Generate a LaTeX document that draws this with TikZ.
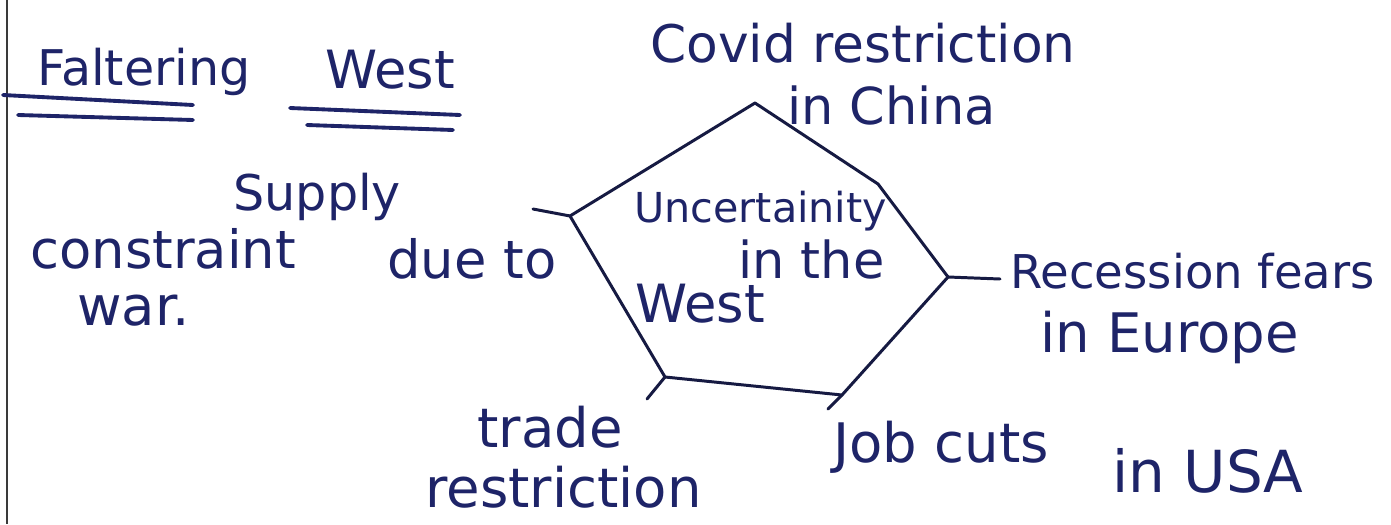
\documentclass[tikz,border=0pt]{standalone}
\usepackage{fontspec}
\setmainfont{DejaVu Sans}
\definecolor{inkblue}{HTML}{1E2468}
\definecolor{penline}{HTML}{161A42}
\definecolor{marginline}{HTML}{3A3A3A}
\begin{document}
\begin{tikzpicture}[x=0.02cm,y=-0.02cm,
  ink/.style={text=inkblue, inner sep=0pt, anchor=base west,
              font=\fontsize{#1}{#1}\selectfont},
  ink/.default=30,
  hexedge/.style={draw=penline, line width=1.7pt, line join=round, line cap=round},
  spoke/.style={draw=penline, line width=1.7pt, line cap=round},
  uline/.style={draw=inkblue, line width=2.2pt, line cap=round}]
\useasboundingbox (0,0) rectangle (1391,524);
\fill[white] (0,0) rectangle (1391,524);
% notebook margin rule
\draw[marginline, line width=1.2pt] (7,0) -- (7,524);

% title with double underlines
\node[ink=28] (falt) at (37,85) {Faltering};
\node[ink=30] (west) at (325,88) {West};
\draw[uline] (3,95) -- (193,105);
\draw[uline] (18,115) -- (193,120);
\draw[uline] (290,108) -- (460,115);
\draw[uline] (307,125) -- (453,130);

% central hexagon
\coordinate (hT)  at (755,103);
\coordinate (hUR) at (878,184);
\coordinate (hR)  at (948,277);
\coordinate (hBR) at (842,395);
\coordinate (hBL) at (665,377);
\coordinate (hL)  at (570,216);
\draw[hexedge] (hT) -- (hUR) -- (hR) -- (hBR) -- (hBL) -- (hL) -- cycle;

% free ends of the spokes
\coordinate (sL)  at (533,209);
\coordinate (sR)  at (1000,279);
\coordinate (sBL) at (647,399);
\coordinate (sBR) at (828,409);
\draw[spoke] (hL) -- (sL);
\draw[spoke] (hR) -- (sR);
\draw[spoke] (hBL) -- (sBL);
\draw[spoke] (hBR) -- (sBR);

% centre text
\node[ink=23.5] (unc1) at (634,222) {Uncertainity};
\node[ink=29] (unc2) at (738,278) {in the};
\node[ink=30] (unc3) at (635,322) {West};

% surrounding causes
\node[ink=29.5] (cov1) at (650,62) {Covid restriction};
\node[ink=29] (cov2) at (787,124) {in China};

\node[ink=28] (sup1) at (233,210) {Supply};
\node[ink=30] (sup2) at (30,268) {constraint};
\node[ink=30] (sup3) at (387,278) {due to};
\node[ink=31] (sup4) at (77,325) {war.};

\node[ink=26.5] (rec1) at (1010,288) {Recession fears};
\node[ink=31] (rec2) at (1040,352) {in Europe};

\node[ink=31] (trd1) at (477,447) {trade};
\node[ink=31] (trd2) at (425,507) {restriction};

\node[ink=31] (job1) at (833,462) {Job cuts};
\node[ink=33] (job2) at (1112,492) {in USA};
\end{tikzpicture}
\end{document}
